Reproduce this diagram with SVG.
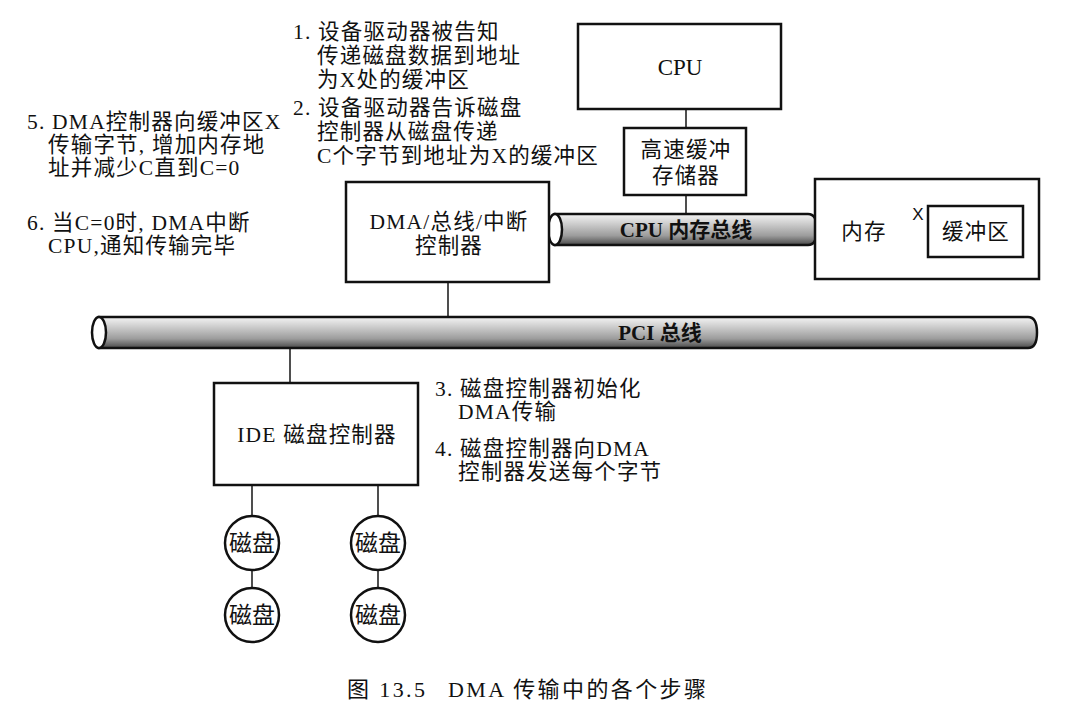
<svg xmlns="http://www.w3.org/2000/svg" width="1075" height="710" viewBox="0 0 1075 710">
<style>
text{font-family:"Liberation Serif","Noto Sans CJK SC",serif;fill:#111;}
.t{font-size:21.5px;letter-spacing:1.2px;}
.c{text-anchor:middle;}
.box{fill:#fff;stroke:#111;stroke-width:2.5;}
.ln{stroke:#222;stroke-width:1.6;fill:none;}
.disk{fill:#fff;stroke:#111;stroke-width:2.5;}
.dt{font-size:23px;text-anchor:middle;}
.bus{fill:url(#busg);stroke:#111;stroke-width:2.5;}
.end{fill:#fff;stroke:#111;stroke-width:2.5;}
.bl{font-size:21px;font-weight:bold;}
.x{font-family:"Liberation Sans",sans-serif;font-size:17px;text-anchor:middle;}
.cap{font-size:22px;letter-spacing:2.4px;}
</style>
<defs>
<linearGradient id="busg" x1="0" y1="0" x2="0" y2="1">
<stop offset="0" stop-color="#f4f4f4"/>
<stop offset="0.3" stop-color="#cfcfcf"/>
<stop offset="0.7" stop-color="#9c9c9c"/>
<stop offset="1" stop-color="#4a4a4a"/>
</linearGradient>
</defs>
<rect width="1075" height="710" fill="#fff"/>

<g id="connectors">
<line class="ln" x1="686" y1="108" x2="686" y2="128"/>
<line class="ln" x1="686" y1="195" x2="686" y2="214"/>
<line class="ln" x1="448" y1="282" x2="448" y2="317"/>
<line class="ln" x1="290" y1="348" x2="290" y2="383"/>
<line class="ln" x1="252" y1="485" x2="252" y2="516"/>
<line class="ln" x1="378" y1="485" x2="378" y2="516"/>
<line class="ln" x1="252" y1="570" x2="252" y2="588"/>
<line class="ln" x1="378" y1="570" x2="378" y2="588"/>
</g>

<g id="cpu">
<rect class="box" x="578" y="24" width="203" height="85"/>
<text class="c" x="680" y="75" font-size="23">CPU</text>
</g>

<g id="cache">
<rect class="box" x="624" y="128" width="122" height="67"/>
<text class="t c" x="686" y="157">高速缓冲</text>
<text class="t c" x="686" y="183">存储器</text>
</g>

<g id="cpu-bus">
<path class="bus" d="M555,214 L808,214 Q817,214 817,229.5 Q817,245 808,245 L555,245 Z"/>
<ellipse class="end" cx="555" cy="229.5" rx="7" ry="15.5"/>
<text class="bl c" x="686" y="237">CPU 内存总线</text>
</g>

<g id="memory">
<rect class="box" x="815" y="179" width="224" height="100"/>
<text class="t c" x="864" y="239">内存</text>
<text class="x" x="918" y="220">X</text>
<rect class="box" x="928" y="206" width="95" height="51"/>
<text class="t c" x="976" y="239">缓冲区</text>
</g>

<g id="dma">
<rect class="box" x="346" y="182" width="203" height="100"/>
<text class="t c" x="449" y="229">DMA/总线/中断</text>
<text class="t c" x="449" y="253">控制器</text>
</g>

<g id="pci-bus">
<path class="bus" d="M99,317 L1028,317 Q1037,317 1037,332.5 Q1037,348 1028,348 L99,348 Z"/>
<ellipse class="end" cx="99" cy="332.5" rx="7" ry="15.5"/>
<text class="bl c" x="660" y="340">PCI 总线</text>
</g>

<g id="ide">
<rect class="box" x="214" y="383" width="204" height="102"/>
<text class="t c" x="317" y="442">IDE 磁盘控制器</text>
</g>

<g id="disk1"><circle class="disk" cx="252" cy="543" r="27"/><text class="dt" x="252" y="551">磁盘</text></g>
<g id="disk2"><circle class="disk" cx="378" cy="543" r="27"/><text class="dt" x="378" y="551">磁盘</text></g>
<g id="disk3"><circle class="disk" cx="252" cy="615" r="27"/><text class="dt" x="252" y="623">磁盘</text></g>
<g id="disk4"><circle class="disk" cx="378" cy="615" r="27"/><text class="dt" x="378" y="623">磁盘</text></g>

<g id="step1-2" class="t">
<text x="293" y="39">1. 设备驱动器被告知</text>
<text x="317" y="63">传递磁盘数据到地址</text>
<text x="317" y="87">为X处的缓冲区</text>
<text x="293" y="115">2. 设备驱动器告诉磁盘</text>
<text x="317" y="139">控制器从磁盘传递</text>
<text x="317" y="163">C个字节到地址为X的缓冲区</text>
</g>

<g id="step5-6" class="t">
<text x="27" y="129">5. DMA控制器向缓冲区X</text>
<text x="48" y="152">传输字节, 增加内存地</text>
<text x="48" y="175">址并减少C直到C=0</text>
<text x="27" y="230">6. 当C=0时, DMA中断</text>
<text x="48" y="253">CPU,通知传输完毕</text>
</g>

<g id="step3-4" class="t">
<text x="435" y="396">3. 磁盘控制器初始化</text>
<text x="458" y="419">DMA传输</text>
<text x="435" y="456">4. 磁盘控制器向DMA</text>
<text x="458" y="479">控制器发送每个字节</text>
</g>

<g id="caption" class="cap">
<text x="347" y="697">图 13.5</text>
<text x="448" y="697">DMA 传输中的各个步骤</text>
</g>
</svg>
